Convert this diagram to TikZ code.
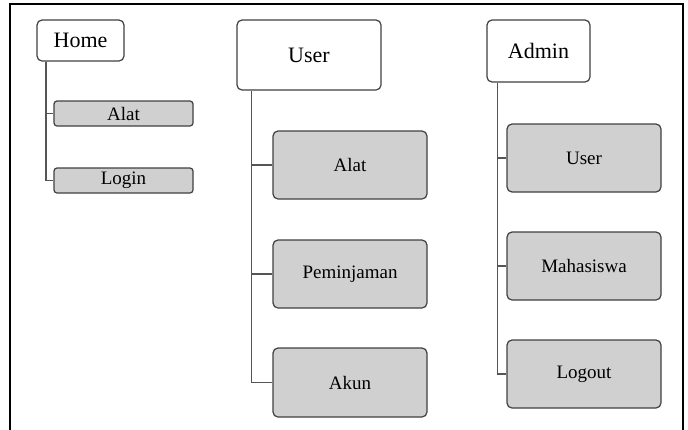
\documentclass[tikz,border=0pt]{standalone}
\usepackage{fontspec}
\setmainfont{Liberation Serif}
\usetikzlibrary{positioning, calc}

\definecolor{boxgray}{RGB}{208,208,208}
\definecolor{edgegray}{RGB}{64,64,64}
\definecolor{linegray}{RGB}{85,85,85}

\begin{document}
\begin{tikzpicture}[x=1pt, y=-1pt,
    head/.style={draw=edgegray, line width=1.2pt, fill=white, rounded corners=5pt,
        inner sep=0pt, font=\fontsize{22}{26}\selectfont},
    item/.style={draw=edgegray, line width=1.2pt, fill=boxgray, rounded corners=5pt,
        inner sep=0pt, minimum width=154, minimum height=68, font=\fontsize{19}{23}\selectfont},
    smallitem/.style={item, rounded corners=3pt, minimum width=139, minimum height=25},
    conn/.style={draw=linegray, line width=1.5pt}]
    \useasboundingbox (0,0) rectangle (688,429);
    % frame
    \draw[line width=2pt] (10,440) -- (10,4) -- (683,4) -- (683,440);

    % Home
    \node[head, minimum width=87, minimum height=41] (home) at (80.5,40.5) {Home};
    \node[smallitem] (halat) at (123.5,113.5) {Alat};
    \node[smallitem] (hlogin) at (123.5,180.5) {Login};
    \coordinate (ht) at ($(home.south west)+(9.5,0)$);
    \draw[conn] (ht) |- (hlogin.west);
    \draw[conn] (ht |- halat.west) -- (halat.west);

    % User
    \node[head, minimum width=144, minimum height=70] (user) at (309,55) {User};
    \node[item] (ualat) at (350,165) {Alat};
    \node[item] (upinjam) at (350,274) {Peminjaman};
    \node[item, minimum height=69] (uakun) at (350,382.5) {Akun};
    \coordinate (ut) at ($(user.south west)+(15,0)$);
    \draw[conn] (ut) |- (uakun.west);
    \draw[conn] (ut |- ualat.west) -- (ualat.west);
    \draw[conn] (ut |- upinjam.west) -- (upinjam.west);

    % Admin
    \node[head, minimum width=103, minimum height=62] (admin) at (538.5,51) {Admin};
    \node[item] (auser) at (584,158) {User};
    \node[item] (amhs) at (584,266) {Mahasiswa};
    \node[item] (alogout) at (584,374) {Logout};
    \coordinate (at) at ($(admin.south west)+(11,0)$);
    \draw[conn] (at) |- (alogout.west);
    \draw[conn] (at |- auser.west) -- (auser.west);
    \draw[conn] (at |- amhs.west) -- (amhs.west);
\end{tikzpicture}
\end{document}
